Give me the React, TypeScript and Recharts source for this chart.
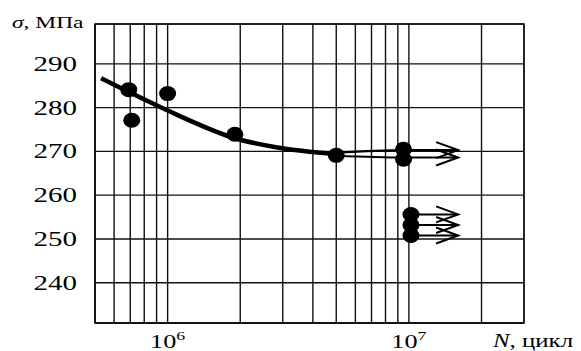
import { ComposedChart, Line, Scatter, XAxis, YAxis, CartesianGrid, ReferenceArea } from 'recharts'

// cycles to failure N (log axis) and stress sigma, MPa
const gridN = [5e5, 6e5, 7e5, 8e5, 9e5, 1e6, 2e6, 3e6, 4e6, 5e6, 6e6, 7e6, 8e6, 9e6, 1e7, 2e7, 3e7]
const stressTicks = [240, 250, 260, 270, 280, 290]

const pointN = [6.9e5, 7.1e5, 1.0e6, 1.9e6, 5.0e6, 9.5e6, 9.5e6, 1.02e7, 1.02e7, 1.02e7]
const pointStress = [284.1, 277.1, 283.2, 273.9, 269.1, 270.5, 268.2, 255.6, 253.2, 250.8]

const curveN = [5.3e5, 7.7e5, 1.09e6, 1.9e6, 2.85e6, 5.0e6]
const curveStress = [286.7, 282.3, 278.4, 273.0, 270.9, 269.4]

// run-outs (no failure): arrows continuing to the right
const runoutUpperN = [5.0e6, 9.5e6, 1.6e7]
const runoutUpperStress = [269.7, 270.3, 270.3]
const runoutLowerN = [5.0e6, 9.5e6, 1.6e7]
const runoutLowerStress = [269.0, 268.6, 268.6]
const runoutShortN = [1.02e7, 1.6e7]
const runoutShortStress = [255.6, 253.2, 250.8]

const FONT = '"Liberation Serif", "Times New Roman", serif'
const SX = 1.38

const toRows = (ns: number[], vs: number[]) => ns.map((n, i) => ({ n, v: vs[i] }))

const points = toRows(pointN, pointStress)
const curve = toRows(curveN, curveStress)
const upper = toRows(runoutUpperN, runoutUpperStress)
const lower = toRows(runoutLowerN, runoutLowerStress)
const shortArrows = runoutShortStress.map((s) => runoutShortN.map((n) => ({ n, v: s })))

const arrowHead = (len: number) => (props: any) => {
  const { cx, cy, index } = props
  if (index !== len - 1) return <g key={index} />
  return (
    <path key={index} d={`M${cx - 22},${cy - 8} L${cx},${cy} L${cx - 22},${cy + 8}`} fill="none" stroke="#000" strokeWidth={2} />
  )
}

const Dot = (props: any) => {
  const { cx, cy } = props
  return <ellipse cx={cx} cy={cy} rx={8.5} ry={7.5} fill="#000" />
}

const YTick = ({ x, y, payload }: any) => (
  <g transform={`translate(${x - 10},${y + 7}) scale(${SX},1)`}>
    <text textAnchor="end" fontSize={21} fontFamily={FONT} fill="#000">{payload.value}</text>
  </g>
)

const XTick = ({ x, y, payload }: any) => {
  const v = payload.value
  if (v !== 1e6 && v !== 1e7) return <g />
  const exp = Math.round(Math.log10(v))
  return (
    <g transform={`translate(${x},${y + 17}) scale(${SX},1)`}>
      <text textAnchor="middle" fontSize={19} fontFamily={FONT} fill="#000">
        <tspan>10</tspan>
        <tspan dy={-8} fontSize={13}>{exp}</tspan>
      </text>
    </g>
  )
}

export default function App() {
  return (
    <div style={{ position: 'fixed', left: 0, top: 0, width: 581, height: 351, background: '#fff' }}>
      <ComposedChart width={581} height={351} margin={{ top: 24, right: 57, left: 0, bottom: 0 }}>
        <CartesianGrid stroke="#111" strokeWidth={1.4} />
        <XAxis
          dataKey="n"
          type="number"
          scale="log"
          domain={[5e5, 3e7]}
          ticks={gridN}
          interval={0}
          allowDataOverflow
          tickLine={false}
          axisLine={{ stroke: '#111', strokeWidth: 1.4 }}
          tick={<XTick />}
          height={28}
        />
        <YAxis
          dataKey="v"
          type="number"
          domain={[230.8, 299.1]}
          ticks={stressTicks}
          allowDataOverflow
          tickLine={false}
          axisLine={{ stroke: '#111', strokeWidth: 1.4 }}
          tick={<YTick />}
          width={95}
        />
        <ReferenceArea x1={5e5} x2={3e7} y1={230.8} y2={299.1} fill="none" stroke="#111" strokeWidth={1.4} />
        <Line data={curve} dataKey="v" type="monotone" stroke="#000" strokeWidth={4.5} dot={false} isAnimationActive={false} />
        <Line data={upper} dataKey="v" type="monotone" stroke="#000" strokeWidth={2.2} dot={arrowHead(upper.length)} isAnimationActive={false} />
        <Line data={lower} dataKey="v" type="monotone" stroke="#000" strokeWidth={2.2} dot={arrowHead(lower.length)} isAnimationActive={false} />
        {shortArrows.map((d, i) => (
          <Line key={i} data={d} dataKey="v" type="linear" stroke="#000" strokeWidth={2} dot={arrowHead(d.length)} isAnimationActive={false} />
        ))}
        <Scatter data={points} dataKey="v" shape={<Dot />} isAnimationActive={false} />
      </ComposedChart>
      <svg width={581} height={351} style={{ position: 'absolute', left: 0, top: 0, pointerEvents: 'none' }}>
        <g transform={`translate(12,28) scale(${SX},1)`}>
          <text fontSize={17} fontFamily={FONT} fill="#000">
            <tspan fontStyle="italic">σ</tspan>
            <tspan>, МПа</tspan>
          </text>
        </g>
        <g transform={`translate(493,347) scale(${SX},1)`}>
          <text fontSize={18} fontFamily={FONT} fill="#000">
            <tspan fontStyle="italic">N</tspan>
            <tspan>, цикл</tspan>
          </text>
        </g>
      </svg>
    </div>
  )
}
